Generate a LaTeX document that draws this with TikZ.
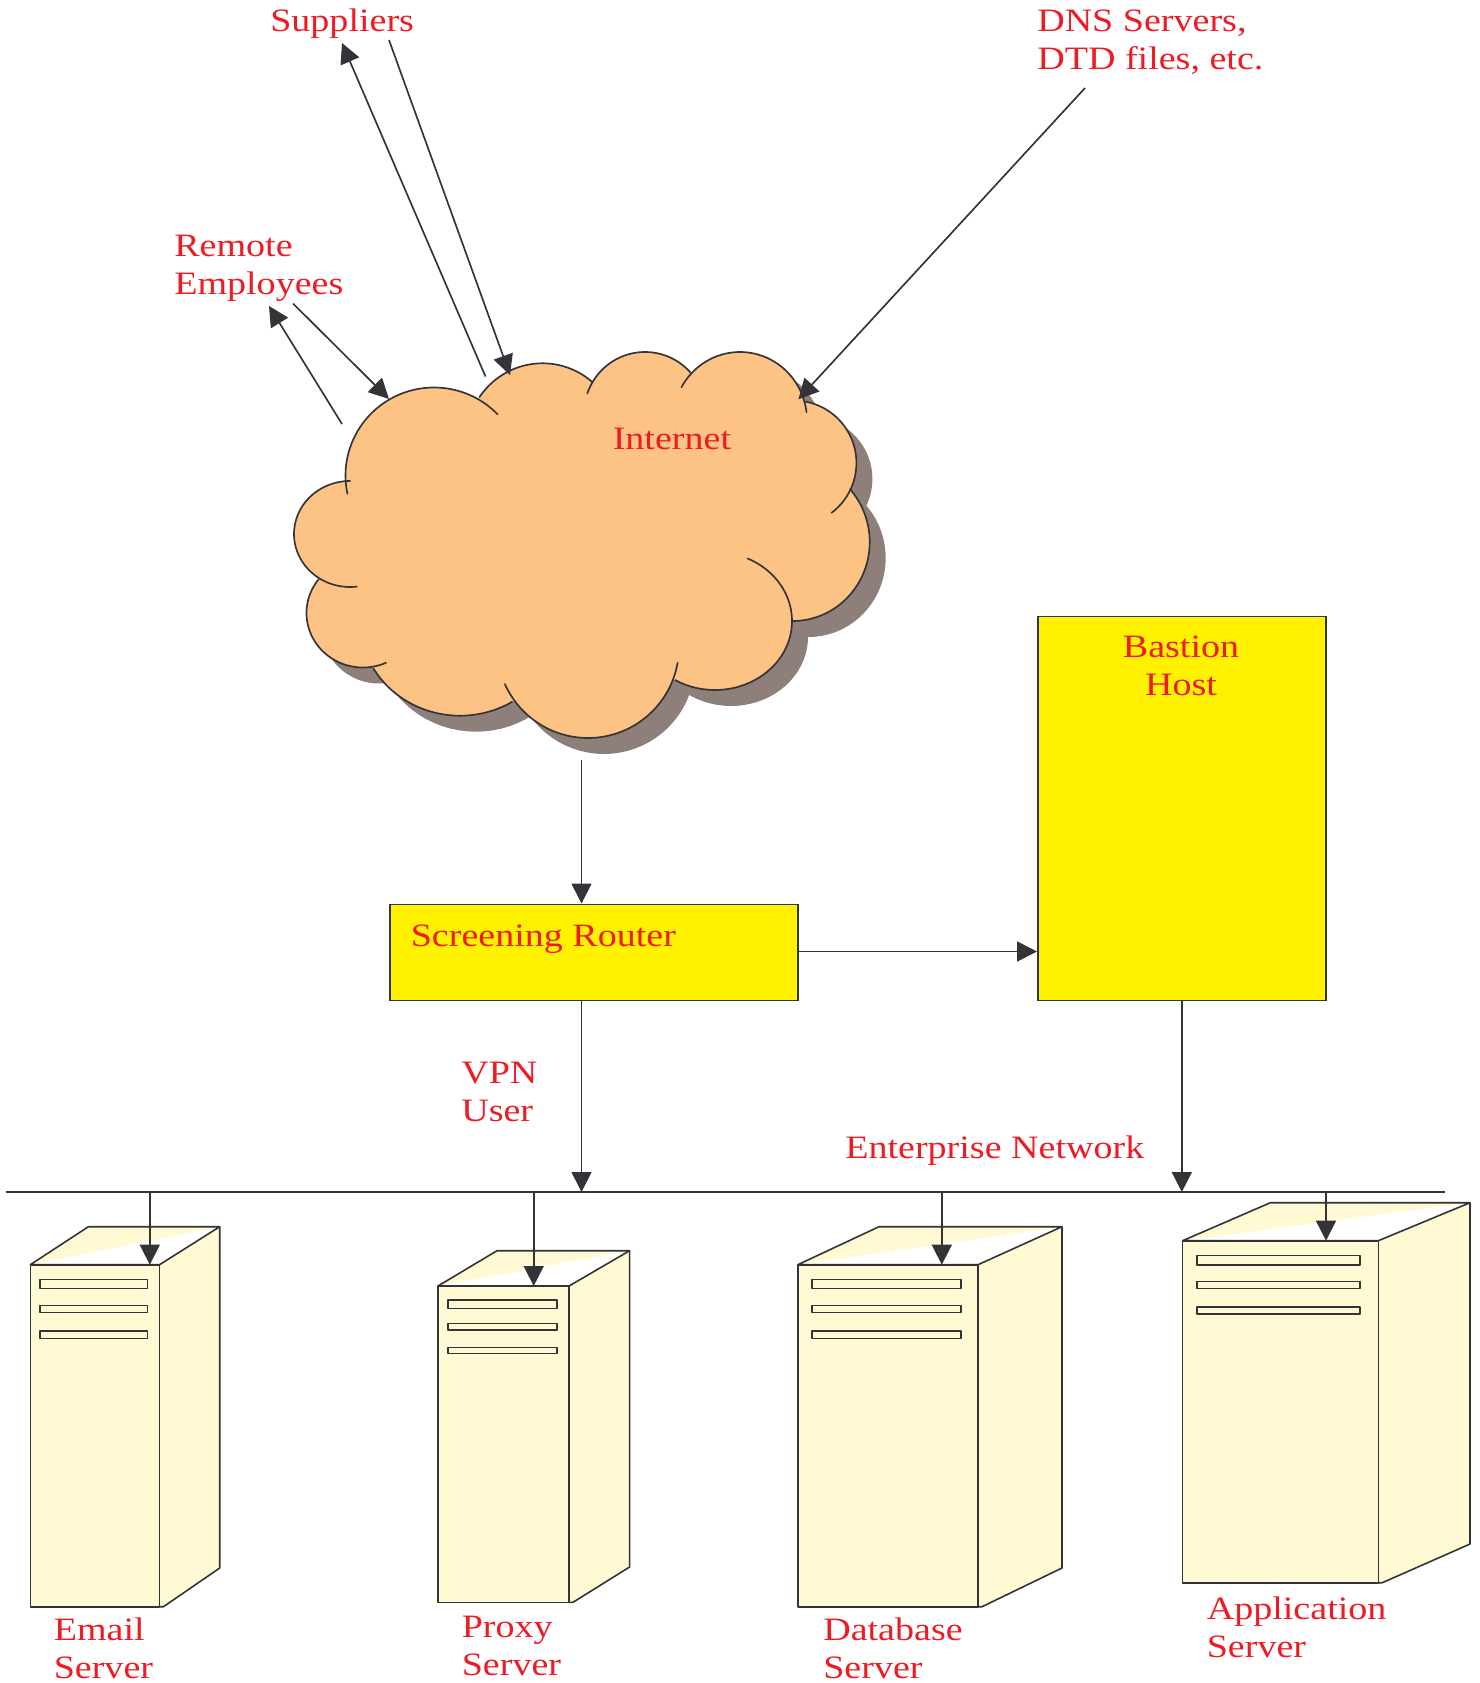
\documentclass[tikz,border=0pt]{standalone}
\usepackage{fontspec}
\setmainfont[FakeStretch=1.165]{Liberation Serif}
\usetikzlibrary{arrows.meta}
\definecolor{ink}{HTML}{333338}
\definecolor{lab}{HTML}{ED1C24}
\definecolor{cloudc}{HTML}{FDC385}
\definecolor{cloudshadow}{HTML}{8E7F7B}
\definecolor{boxc}{HTML}{FFF200}
\definecolor{srvc}{HTML}{FFFAD4}
\tikzset{
  lbl/.style={text=lab,inner sep=0pt,anchor=base west,align=left,font=\fontsize{24.5}{28.5}\selectfont},
  lblc/.style={lbl,anchor=base,align=center},
  conn/.style={draw=ink,line width=1.25pt,-{Triangle[length=15pt,width=15pt]}},
  edge/.style={draw=ink,line width=1.25pt},
  srvline/.style={draw=ink,line width=1.2pt,line join=round},
  hardbox/.style={draw=ink,line width=1.2pt,fill=boxc,inner sep=0pt,anchor=north west},
}
% #1 name #2 front-left #3 front-right #4 top y #5 back-left x #6 back y #7 back-right x #8 back-bottom y #9 front-bottom y
\newcommand{\srvbody}[9]{
  \fill[srvc] (#3,#4) -- (#7,#6) -- (#7,#8) -- (#3+4,#9) -- (#2,#9) -- (#2,#4) -- cycle;
  \fill[srvc] (#2,#4) -- (#5,#6) -- (#7,#6) -- cycle;
  \draw[srvline] (#2,#4) -- (#5,#6) -- (#7,#6) -- (#3,#4) -- cycle;
  \draw[srvline] (#2,#4) rectangle (#3,#9);
  \draw[srvline] (#3,#9) -- (#3+4,#9) -- (#7,#8) -- (#7,#6);
  \coordinate (#1) at (#3,#4);
}
\newcommand{\srvslot}[4]{\draw[srvline,fill=srvc,line width=1.1pt] (#1,#3) rectangle (#2,#4);}
% lobes: centre x / centre y / radius x / radius y / start / end
\def\lobes{184/155.5/88.5/88/168/316, 292.5/120/76/76.7/214/311, 395/93.5/61/61.5/199/318,
  490/100.6/67/68.6/209/353, 544/143/62.4/62.4/281/413, 542.7/222/77/79/318/450,
  465/301/77/69/295/481, 338/327/91/91/10/156, 210/301/100/94.7/58.6/150,
  113/293/56.5/54.5/66/218, 100/214/56/53/83/270}
\newcommand{\cloudbody}[1]{
  \fill[#1] (184,155.5) -- (292.5,120) -- (395,93.5) -- (490,100.6) -- (544,143) -- (542.7,222)
     -- (465,301) -- (338,327) -- (210,301) -- (113,293) -- (100,214) -- cycle;
  \foreach \cx/\cy/\rx/\ry/\sa/\ea in \lobes {
    \fill[#1] plot[domain=0:360,samples=73,variable=\t] ({\cx+\rx*cos(\t)},{\cy+\ry*sin(\t)}) -- cycle;
  }
}
\begin{document}
\begin{tikzpicture}[x=0.75pt,y=-0.75pt]
\useasboundingbox (0,0) rectangle (1479,1683);
% cloud
\begin{scope}[shift={(266,336)}]
  \cloudbody{cloudshadow}
\end{scope}
\begin{scope}[shift={(250,320)}]
  \cloudbody{cloudc}
  \foreach \cx/\cy/\rx/\ry/\sa/\ea in \lobes {
    \draw[edge,line cap=round] plot[domain=\sa:\ea,samples=60,variable=\t] ({\cx+\rx*cos(\t)},{\cy+\ry*sin(\t)});
  }
\end{scope}
% boxes
\node[hardbox,minimum width=288*0.75pt,minimum height=384*0.75pt] (bastion) at (1037,615.5) {};
\node[hardbox,minimum width=408*0.75pt,minimum height=96*0.75pt] (router) at (389,903.5) {};
% bus
\coordinate (busL) at (5.5,1192);
\coordinate (busR) at (1445,1192);
\draw[edge] (busL) -- (busR);
% servers
\srvbody{s1}{30.3}{159.5}{1264.7}{88.4}{1226.7}{219.7}{1568}{1606.7}
\srvslot{40}{147.7}{1279.7}{1288.7}\srvslot{40}{147.7}{1305.7}{1312.7}\srvslot{40}{147.7}{1331}{1338.3}
\srvbody{s2}{438}{569}{1286}{497}{1250.7}{629.6}{1567}{1602.3}
\srvslot{448}{557}{1300}{1308.3}\srvslot{448}{557}{1323.7}{1330}\srvslot{448}{557}{1347.3}{1353.7}
\srvbody{s3}{797.8}{978}{1264.7}{879}{1226.7}{1062}{1568}{1606.7}
\srvslot{812}{961}{1279.7}{1288.7}\srvslot{812}{961}{1305.7}{1312.7}\srvslot{812}{961}{1331}{1338.3}
\srvbody{s4}{1182.6}{1378.3}{1240.7}{1270.4}{1202.7}{1470}{1544}{1582.7}
\srvslot{1197}{1360}{1255.7}{1265}\srvslot{1197}{1360}{1281.3}{1288.3}\srvslot{1197}{1360}{1307}{1314}
% labels
\node[lbl] (suppliers) at (270,32) {Suppliers};
\node[lbl] (dns) at (1037,70) {DNS Servers,\\DTD files, etc.};
\node[lbl] (remote) at (174,295) {Remote\\Employees};
\node[lbl] (internet) at (612.5,449) {Internet};
\node[lblc] (bastiontxt) at (1181,695) {Bastion\\Host};
\node[lbl] (routertxt) at (410.5,946.5) {Screening Router};
\node[lbl] (vpn) at (461,1121) {VPN\\User};
\node[lbl] (enterprise) at (845,1158) {Enterprise Network};
\node[lbl] (email) at (53.5,1678.5) {Email\\Server};
\node[lbl] (proxy) at (461.5,1675) {Proxy\\Server};
\node[lbl] (database) at (823,1678.5) {Database\\Server};
\node[lbl] (application) at (1206.5,1657) {Application\\Server};
% connector ends
\coordinate (supOutA) at (485.5,376.5);
\coordinate (supOutB) at (342,43);
\coordinate (supInA) at (389,40);
\coordinate (supInB) at (510,375);
\coordinate (remOutA) at (342,424);
\coordinate (remOutB) at (269,306);
\coordinate (remInA) at (293,303.5);
\coordinate (remInB) at (389,399);
\coordinate (dnsA) at (1085,88);
\coordinate (dnsB) at (798.4,399.3);
\coordinate (cloudOut) at (581.5,760);
% connectors
\draw[conn] (supOutA) -- (supOutB);
\draw[conn] (supInA) -- (supInB);
\draw[conn] (remOutA) -- (remOutB);
\draw[conn] (remInA) -- (remInB);
\draw[conn] (dnsA) -- (dnsB);
\draw[conn] (cloudOut) -- (cloudOut |- router.north);
\draw[conn] (router.east |- 0,951.5) -- (bastion.west |- 0,951.5);
\draw[conn] (cloudOut |- router.south) -- (cloudOut |- busL);
\draw[conn] (bastion.south) -- (bastion.south |- busL);
\draw[conn] (149.8,1192) -- (s1 -| 149.8,0);
\draw[conn] (533.7,1192) -- (s2 -| 533.7,0);
\draw[conn] (941.8,1192) -- (s3 -| 941.8,0);
\draw[conn] (1326,1192) -- (s4 -| 1326,0);
\end{tikzpicture}
\end{document}
